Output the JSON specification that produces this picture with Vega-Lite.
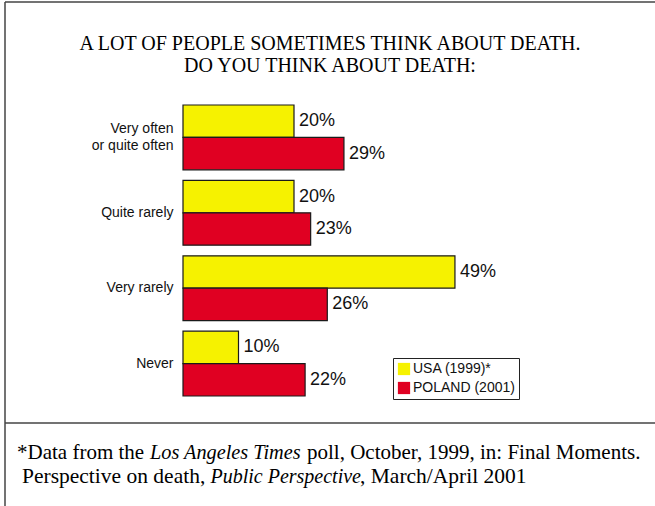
{
  "$schema": "https://vega.github.io/schema/vega-lite/v6.json",
  "autosize": "none",
  "width": 444,
  "height": 291,
  "padding": {"left": 183, "top": 105, "right": 28, "bottom": 110},
  "background": "white",
  "config": {"view": {"stroke": null}},
  "data": {
    "values": [
      {"answer": "Very often|or quite often", "series": "USA (1999)*", "value": 20, "label": "20%"},
      {"answer": "Very often|or quite often", "series": "POLAND (2001)", "value": 29, "label": "29%"},
      {"answer": "Quite rarely", "series": "USA (1999)*", "value": 20, "label": "20%"},
      {"answer": "Quite rarely", "series": "POLAND (2001)", "value": 23, "label": "23%"},
      {"answer": "Very rarely", "series": "USA (1999)*", "value": 49, "label": "49%"},
      {"answer": "Very rarely", "series": "POLAND (2001)", "value": 26, "label": "26%"},
      {"answer": "Never", "series": "USA (1999)*", "value": 10, "label": "10%"},
      {"answer": "Never", "series": "POLAND (2001)", "value": 22, "label": "22%"}
    ]
  },
  "layer": [
    {
      "mark": {"type": "bar", "stroke": "#1a1a1a", "strokeWidth": 1.2},
      "encoding": {
        "y": {
          "field": "answer", "type": "nominal",
          "sort": ["Very often|or quite often", "Quite rarely", "Very rarely", "Never"],
          "scale": {"paddingInner": 0.14, "paddingOuter": 0},
          "axis": {
            "title": null, "ticks": false, "domain": false, "labelPadding": 10,
            "labelFont": "Liberation Sans", "labelFontSize": 14, "labelColor": "#111",
            "labelLineHeight": 17, "labelExpr": "split(datum.label, '|')",
            "labelOffset": {"condition": {"test": "indexof(datum.value, '|') >= 0", "value": -8.5}, "value": 0}
          }
        },
        "yOffset": {"field": "series", "type": "nominal", "sort": ["USA (1999)*", "POLAND (2001)"]},
        "x": {"field": "value", "type": "quantitative", "scale": {"domain": [0, 80]}, "axis": null},
        "color": {
          "field": "series", "type": "nominal",
          "scale": {"domain": ["USA (1999)*", "POLAND (2001)"], "range": ["#f6f200", "#e00022"]},
          "legend": {
            "title": null, "orient": "none", "legendX": 210, "legendY": 253,
            "strokeColor": "#222", "fillColor": "white", "padding": 4,
            "symbolType": "square", "symbolSize": 150, "symbolStrokeWidth": 0,
            "labelFont": "Liberation Sans", "labelFontSize": 14, "labelColor": "#111",
            "labelOffset": 2, "rowPadding": 5
          }
        }
      }
    },
    {
      "mark": {"type": "text", "align": "left", "baseline": "middle", "dx": 5, "font": "Liberation Sans", "fontSize": 18, "color": "#111"},
      "encoding": {
        "y": {"field": "answer", "type": "nominal", "sort": ["Very often|or quite often", "Quite rarely", "Very rarely", "Never"]},
        "yOffset": {"field": "series", "type": "nominal", "sort": ["USA (1999)*", "POLAND (2001)"]},
        "x": {"field": "value", "type": "quantitative"},
        "text": {"field": "label", "type": "nominal"}
      }
    },
    {
      "data": {"values": [{}]},
      "mark": {"type": "rule", "stroke": "#444", "strokeWidth": 1.5},
      "encoding": {"x": {"value": -178}, "y": {"value": -103}, "y2": {"value": 401}}
    },
    {
      "data": {"values": [{}]},
      "mark": {"type": "rule", "stroke": "#444", "strokeWidth": 1.5},
      "encoding": {"x": {"value": -178}, "x2": {"value": 472}, "y": {"value": -103}}
    },
    {
      "data": {"values": [{}]},
      "mark": {"type": "rule", "stroke": "#444", "strokeWidth": 1.5},
      "encoding": {"x": {"value": -178}, "x2": {"value": 472}, "y": {"value": 318}}
    },
    {
      "data": {"values": [{"t": "A LOT OF PEOPLE SOMETIMES THINK ABOUT DEATH."}]},
      "mark": {"type": "text", "align": "center", "baseline": "alphabetic", "font": "Liberation Serif", "fontSize": 20, "color": "black"},
      "encoding": {"x": {"value": 147}, "y": {"value": -55.5}, "text": {"field": "t"}}
    },
    {
      "data": {"values": [{"t": "DO YOU THINK ABOUT DEATH:"}]},
      "mark": {"type": "text", "align": "center", "baseline": "alphabetic", "font": "Liberation Serif", "fontSize": 20, "color": "black"},
      "encoding": {"x": {"value": 147}, "y": {"value": -33.5}, "text": {"field": "t"}}
    },
    {
      "data": {"values": [{"t": "*Data from the"}]},
      "mark": {"type": "text", "align": "left", "baseline": "alphabetic", "font": "Liberation Serif", "fontSize": 21, "color": "black"},
      "encoding": {"x": {"value": -166}, "y": {"value": 354}, "text": {"field": "t"}}
    },
    {
      "data": {"values": [{"t": "Los Angeles Times"}]},
      "mark": {"type": "text", "align": "left", "baseline": "alphabetic", "font": "Liberation Serif", "fontSize": 20.3, "fontStyle": "italic", "color": "black"},
      "encoding": {"x": {"value": -33}, "y": {"value": 354}, "text": {"field": "t"}}
    },
    {
      "data": {"values": [{"t": "poll, October, 1999, in: Final Moments."}]},
      "mark": {"type": "text", "align": "left", "baseline": "alphabetic", "font": "Liberation Serif", "fontSize": 21, "color": "black"},
      "encoding": {"x": {"value": 124}, "y": {"value": 354}, "text": {"field": "t"}}
    },
    {
      "data": {"values": [{"t": "Perspective on death,"}]},
      "mark": {"type": "text", "align": "left", "baseline": "alphabetic", "font": "Liberation Serif", "fontSize": 21.5, "color": "black"},
      "encoding": {"x": {"value": -161}, "y": {"value": 378}, "text": {"field": "t"}}
    },
    {
      "data": {"values": [{"t": "Public Perspective"}]},
      "mark": {"type": "text", "align": "left", "baseline": "alphabetic", "font": "Liberation Serif", "fontSize": 20, "fontStyle": "italic", "color": "black"},
      "encoding": {"x": {"value": 27.5}, "y": {"value": 378}, "text": {"field": "t"}}
    },
    {
      "data": {"values": [{"t": ", March/April 2001"}]},
      "mark": {"type": "text", "align": "left", "baseline": "alphabetic", "font": "Liberation Serif", "fontSize": 21.5, "color": "black"},
      "encoding": {"x": {"value": 177}, "y": {"value": 378}, "text": {"field": "t"}}
    }
  ]
}
